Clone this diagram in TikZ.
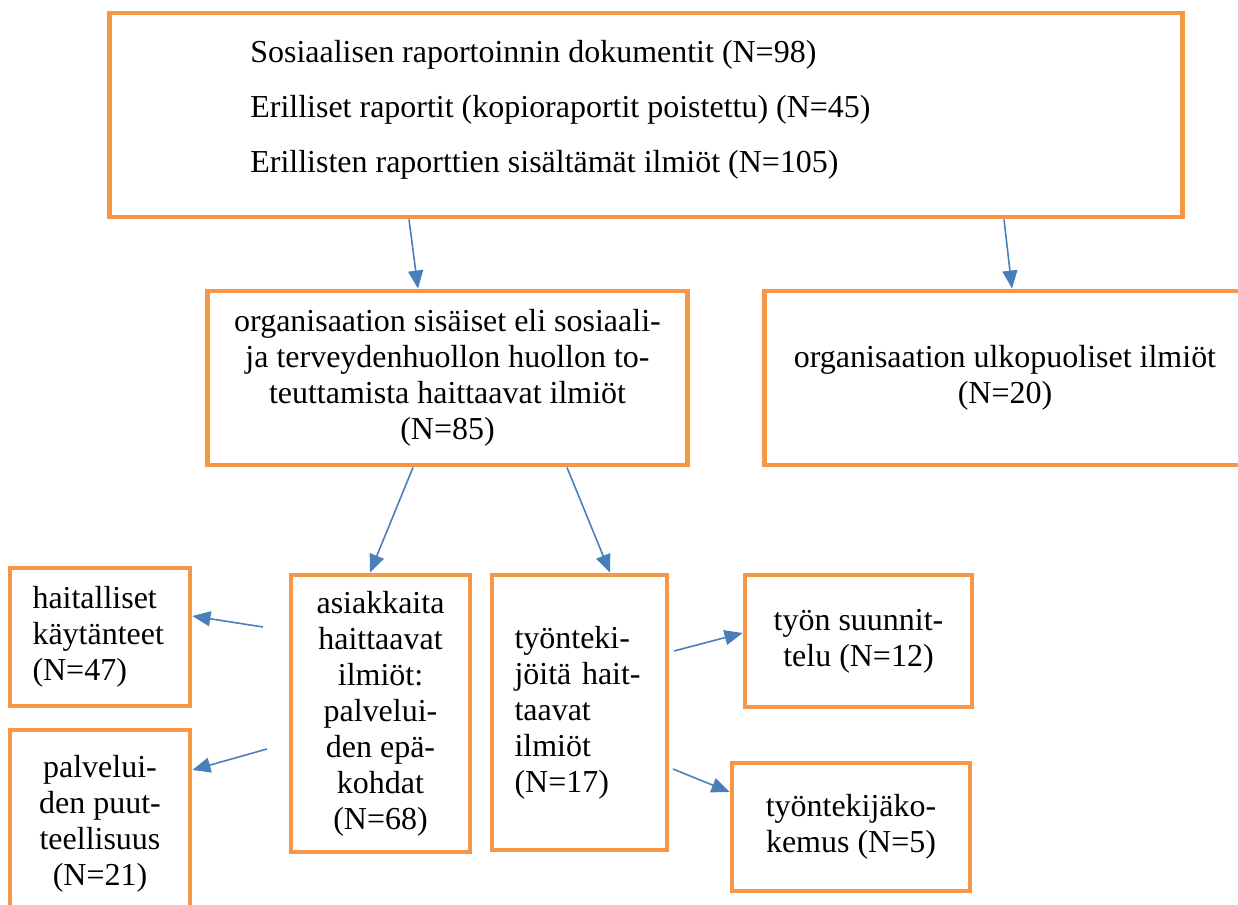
\documentclass[tikz,border=0pt]{standalone}
\usepackage{fontspec}
\setmainfont{Liberation Serif}
\usepackage{tikz}
\usetikzlibrary{arrows.meta}

\definecolor{boxorange}{HTML}{F79646}
\definecolor{arrowblue}{HTML}{4A7EBB}

\tikzset{
    box/.style={draw=boxorange, line width=2.8pt, rectangle, fill=white, align=center,
        font=\fontsize{18.2}{20.5}\selectfont},
    leftbox/.style={box, align=left, inner xsep=0.45cm},
    arrow/.style={draw=arrowblue, line width=0.9pt, -{Triangle[length=0.36cm, width=0.3cm]}}
}

\begin{document}
\begin{tikzpicture}[x=0.02cm, y=-0.02cm]
    \useasboundingbox (0,0) rectangle (1238,905);

    % top box
    \node[box, minimum width=21.48cm, minimum height=4.08cm] (docs) at (646,115) {};
    \node[anchor=west, align=left, inner sep=0pt, font=\fontsize{18.2}{31.3}\selectfont] (docstext) at (250,110)
        {Sosiaalisen raportoinnin dokumentit (N=98)\\
         Erilliset raportit (kopioraportit poistettu) (N=45)\\
         Erillisten raporttien sisältämät ilmiöt (N=105)};

    % second row
    \node[box, minimum width=9.62cm, minimum height=3.48cm] (internal) at (447.5,378)
        {organisaation sisäiset eli sosiaali-\\ja terveydenhuollon huollon to-\\teuttamista haittaavat ilmiöt\\(N=85)};
    \node[box, minimum width=9.64cm, minimum height=3.48cm] (external) at (1005,378)
        {organisaation ulkopuoliset ilmiöt\\(N=20)};

    % third row
    \node[box, minimum width=3.58cm, minimum height=5.54cm] (clients) at (380.5,713.5)
        {asiakkaita\\haittaavat\\ilmiöt:\\palvelui-\\den epä-\\kohdat\\(N=68)};
    \node[leftbox, text width=2.6cm, minimum width=3.5cm, minimum height=5.5cm] (workers) at (579.5,712.5)
        {työnteki-\\jöitä hait-\\taavat\\ilmiöt\\(N=17)};

    % leaves
    \node[leftbox, text width=2.7cm, minimum width=3.6cm, minimum height=2.76cm] (practices) at (100,637)
        {haitalliset\\käytänteet\\(N=47)};
    \node[box, minimum width=3.6cm, minimum height=3.76cm] (lacks) at (100,824)
        {palvelui-\\den puut-\\teellisuus\\(N=21)};
    \node[box, minimum width=4.54cm, minimum height=2.64cm] (planning) at (858.5,641)
        {työn suunnit-\\telu (N=12)};
    \node[box, minimum width=4.76cm, minimum height=2.56cm] (experience) at (851,827)
        {työntekijäko-\\kemus (N=5)};

    % free ends of the side arrows
    \coordinate (cl1) at (263,627);
    \coordinate (cl2) at (267,749);
    \coordinate (wk1) at (674,651);
    \coordinate (wk2) at (673,769);

    % arrows
    \path[arrow] (docs.south -| 409,0) -- (internal.north -| 418,0);
    \path[arrow] (docs.south -| 1004,0) -- (external.north -| 1012,0);
    \path[arrow] (internal.south -| 413,0) -- (clients.north -| 370,0);
    \path[arrow] (internal.south -| 567,0) -- (workers.north -| 610,0);
    \path[arrow] (cl1) -- (practices.east |- 0,616);
    \path[arrow] (cl2) -- (lacks.east |- 0,770);
    \path[arrow] (wk1) -- (planning.west |- 0,633);
    \path[arrow] (wk2) -- (experience.west |- 0,792);
\end{tikzpicture}
\end{document}
